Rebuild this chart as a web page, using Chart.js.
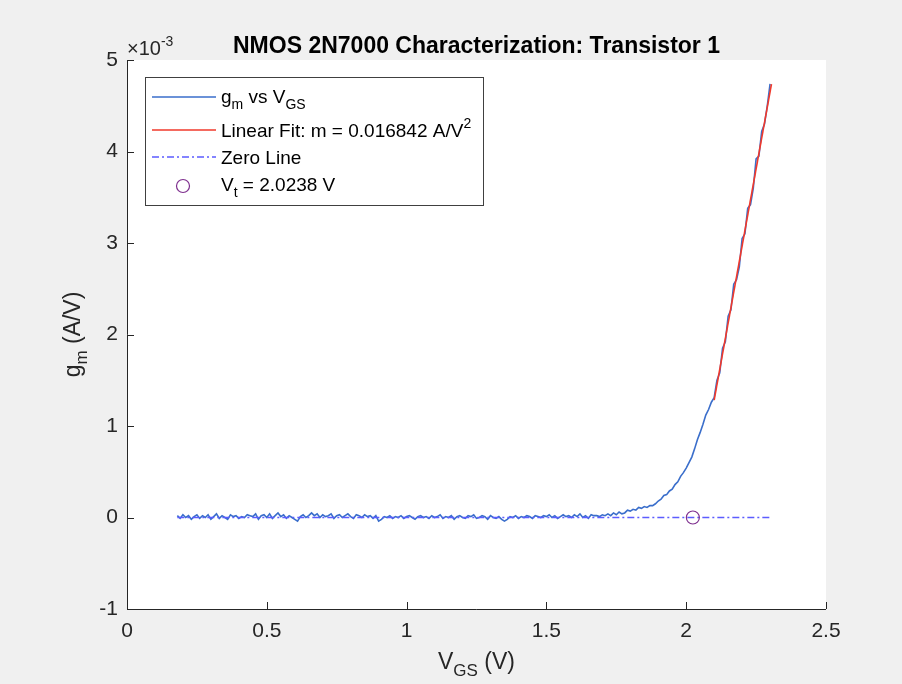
<!DOCTYPE html>
<html>
<head>
<meta charset="utf-8">
<title>NMOS 2N7000 Characterization: Transistor 1</title>
<script src="https://cdn.jsdelivr.net/npm/chart.js@4/dist/chart.umd.min.js"></script>
<style>
  html, body { margin: 0; padding: 0; background: #f0f0f0; }
  canvas { display: block; }
</style>
</head>
<body>
<canvas id="gmChart" width="902" height="684"></canvas>
<script>
// Gate-source voltage sweep (V)
const vgs = [
  0.18,0.19,0.20,0.21,0.22,0.23,0.24,0.25,0.26,0.27,
  0.28,0.29,0.30,0.31,0.32,0.33,0.34,0.35,0.36,0.37,
  0.38,0.39,0.40,0.41,0.42,0.43,0.44,0.45,0.46,0.47,
  0.48,0.49,0.50,0.51,0.52,0.53,0.54,0.55,0.56,0.57,
  0.58,0.59,0.60,0.61,0.62,0.63,0.64,0.65,0.66,0.67,
  0.68,0.69,0.70,0.71,0.72,0.73,0.74,0.75,0.76,0.77,
  0.78,0.79,0.80,0.81,0.82,0.83,0.84,0.85,0.86,0.87,
  0.88,0.89,0.90,0.91,0.92,0.93,0.94,0.95,0.96,0.97,
  0.98,0.99,1.00,1.01,1.02,1.03,1.04,1.05,1.06,1.07,
  1.08,1.09,1.10,1.11,1.12,1.13,1.14,1.15,1.16,1.17,
  1.18,1.19,1.20,1.21,1.22,1.23,1.24,1.25,1.26,1.27,
  1.28,1.29,1.30,1.31,1.32,1.33,1.34,1.35,1.36,1.37,
  1.38,1.39,1.40,1.41,1.42,1.43,1.44,1.45,1.46,1.47,
  1.48,1.49,1.50,1.51,1.52,1.53,1.54,1.55,1.56,1.57,
  1.58,1.59,1.60,1.61,1.62,1.63,1.64,1.65,1.66,1.67,
  1.68,1.69,1.70,1.71,1.72,1.73,1.74,1.75,1.76,1.77,
  1.78,1.79,1.80,1.81,1.82,1.83,1.84,1.85,1.86,1.87,
  1.88,1.89,1.90,1.91,1.92,1.93,1.94,1.95,1.96,1.97,
  1.98,1.99,2.00,2.01,2.02,2.03,2.04,2.05,2.06,2.07,
  2.08,2.09,2.10,2.11,2.12,2.13,2.14,2.15,2.16,2.17,
  2.18,2.19,2.20,2.21,2.22,2.23,2.24,2.25,2.26,2.27,
  2.28,2.29,2.30
];

// Measured transconductance, in units of 1e-3 A/V
const gmMilli = [
  0.02,-0.01,0.03,0.00,0.02,-0.02,0.01,0.03,-0.01,0.02,
  0.00,0.03,-0.02,0.01,0.04,-0.01,0.02,0.00,-0.02,0.03,
  0.01,0.02,-0.01,0.01,0.00,0.03,0.02,0.01,0.04,-0.02,
  0.02,0.03,0.00,0.04,-0.01,0.02,0.05,0.01,0.03,-0.01,
  0.02,0.00,-0.02,-0.04,0.01,0.03,0.00,0.02,0.05,0.02,
  0.04,0.00,0.03,0.01,0.02,0.04,-0.01,0.02,0.03,0.00,
  0.02,0.04,0.01,-0.01,0.03,0.02,0.00,0.03,0.01,0.02,
  -0.01,0.02,-0.04,-0.02,0.01,0.00,0.02,-0.01,0.01,0.00,
  0.02,-0.01,0.01,0.02,0.00,-0.02,0.01,0.02,0.00,0.01,
  -0.01,0.02,0.00,0.01,0.03,-0.01,0.01,0.00,0.02,-0.02,
  0.01,0.02,0.00,-0.01,0.02,0.01,0.03,-0.01,0.00,0.02,
  0.01,-0.02,0.02,0.00,-0.01,0.01,-0.02,-0.04,-0.02,0.01,
  0.00,0.02,-0.01,0.01,0.00,0.02,0.01,-0.01,0.02,0.01,
  0.00,0.02,0.01,0.03,0.00,0.02,-0.01,0.01,0.03,0.01,
  0.02,0.00,0.03,0.01,0.04,0.00,0.02,-0.01,0.03,0.02,
  0.02,0.01,0.03,0.02,0.04,0.02,0.05,0.03,0.06,0.04,
  0.05,0.08,0.07,0.09,0.08,0.11,0.10,0.12,0.11,0.13,
  0.13,0.15,0.18,0.20,0.24,0.25,0.29,0.31,0.36,0.39,
  0.45,0.49,0.54,0.60,0.66,0.75,0.85,0.93,1.02,1.12,
  1.18,1.26,1.31,1.50,1.58,1.85,1.92,2.20,2.27,2.55,
  2.60,2.74,3.05,3.10,3.38,3.42,3.60,3.92,3.95,4.22,
  4.30,4.50,4.74
];

// Fit results shown in the legend
const fitSlope = 0.016842;       // A/V^2
const thresholdV = 2.0238;       // V (x-intercept of the fit)
const fitRange = [2.10, 2.305];  // V span of the fitted segment
const zeroRange = [0.18, 2.30];  // V span of the zero reference

// Axis ticks
const xTicks = [0, 0.5, 1, 1.5, 2, 2.5];
const yTicks = [-1, 0, 1, 2, 3, 4, 5];
const yScale = 1e-3;

const FONT = "'Liberation Sans', Arial, Helvetica, sans-serif";
const C_BLUE = '#3a6ecb';
const C_RED = '#f0392b';
const C_ZERO = '#5c5cff';
const C_VT = '#7e2f8e';
const C_AXIS = '#262626';

const gmPoints = vgs.map((v, i) => ({ x: v, y: gmMilli[i] }));
const fitPoints = fitRange.map(v => ({ x: v, y: fitSlope * (v - thresholdV) / yScale }));
const zeroPoints = zeroRange.map(v => ({ x: v, y: 0 }));
const vtPoints = [{ x: thresholdV, y: 0 }];

// Draws a run of text pieces, some as subscripts or superscripts
function drawRich(ctx, parts, x, y, size, align, color) {
  const small = Math.round(size * 0.72);
  let total = 0;
  parts.forEach(p => {
    ctx.font = (p.bold ? 'bold ' : '') + (p.sub || p.sup ? small : size) + 'px ' + FONT;
    p.w = ctx.measureText(p.t).width;
    total += p.w;
  });
  let cx = align === 'center' ? x - total / 2 : (align === 'right' ? x - total : x);
  ctx.fillStyle = color;
  ctx.textAlign = 'left';
  ctx.textBaseline = 'alphabetic';
  parts.forEach(p => {
    ctx.font = (p.bold ? 'bold ' : '') + (p.sub || p.sup ? small : size) + 'px ' + FONT;
    const dy = p.sub ? size * 0.32 : (p.sup ? -size * 0.45 : 0);
    ctx.fillText(p.t, cx, y + dy);
    cx += p.w;
  });
}

function legendLine(ctx, color, width, dash, x0, x1, y) {
  ctx.save();
  ctx.strokeStyle = color;
  ctx.lineWidth = width;
  ctx.setLineDash(dash);
  ctx.beginPath();
  ctx.moveTo(x0, y);
  ctx.lineTo(x1, y);
  ctx.stroke();
  ctx.restore();
}

const decorPlugin = {
  id: 'decor',
  beforeDraw(chart) {
    const { ctx, chartArea: a } = chart;
    ctx.save();
    ctx.fillStyle = '#f0f0f0';
    ctx.fillRect(0, 0, chart.width, chart.height);
    ctx.fillStyle = '#ffffff';
    ctx.fillRect(a.left, a.top, a.right - a.left, a.bottom - a.top);
    ctx.restore();
  },
  afterDraw(chart) {
    const { ctx, chartArea: a, scales } = chart;
    ctx.save();

    // Axis lines with inward ticks
    ctx.strokeStyle = C_AXIS;
    ctx.lineWidth = 1;
    ctx.beginPath();
    ctx.moveTo(a.left + 0.5, a.top);
    ctx.lineTo(a.left + 0.5, a.bottom + 0.5);
    ctx.lineTo(a.right, a.bottom + 0.5);
    const tl = 7;
    xTicks.forEach(t => {
      const px = Math.round(scales.x.getPixelForValue(t)) + 0.5;
      ctx.moveTo(px, a.bottom);
      ctx.lineTo(px, a.bottom - tl);
    });
    yTicks.forEach(t => {
      const py = Math.round(scales.y.getPixelForValue(t)) + 0.5;
      ctx.moveTo(a.left, py);
      ctx.lineTo(a.left + tl, py);
    });
    ctx.stroke();

    // Title
    drawRich(ctx, [{ t: 'NMOS 2N7000 Characterization: Transistor 1', bold: true }],
      (a.left + a.right) / 2, 53, 23, 'center', '#000000');

    // Exponent for the y axis
    drawRich(ctx, [{ t: '\u00d710' }, { t: '-3', sup: true }], a.left, 55, 20, 'left', '#262626');

    // Axis titles
    drawRich(ctx, [{ t: 'V' }, { t: 'GS', sub: true }, { t: ' (V)' }],
      (a.left + a.right) / 2, 669, 23, 'center', '#262626');
    ctx.save();
    ctx.translate(80, (a.top + a.bottom) / 2);
    ctx.rotate(-Math.PI / 2);
    drawRich(ctx, [{ t: 'g' }, { t: 'm', sub: true }, { t: ' (A/V)' }], 0, 0, 23, 'center', '#262626');
    ctx.restore();

    // Legend
    const lx = 145.5, ly = 77.5, lw = 338, lh = 128;
    ctx.fillStyle = '#ffffff';
    ctx.fillRect(lx, ly, lw, lh);
    ctx.strokeStyle = '#404040';
    ctx.lineWidth = 1;
    ctx.setLineDash([]);
    ctx.strokeRect(lx, ly, lw, lh);

    const sx0 = 152, sx1 = 216, tx = 221, fs = 19;
    legendLine(ctx, C_BLUE, 1.5, [], sx0, sx1, 97);
    drawRich(ctx, [{ t: 'g' }, { t: 'm', sub: true }, { t: ' vs V' }, { t: 'GS', sub: true }], tx, 103, fs, 'left', '#000');

    legendLine(ctx, C_RED, 1.5, [], sx0, sx1, 130);
    drawRich(ctx, [{ t: 'Linear Fit: m = ' + fitSlope.toFixed(6) + ' A/V' }, { t: '2', sup: true }], tx, 137, fs, 'left', '#000');

    legendLine(ctx, C_ZERO, 1.3, [7, 3, 2, 3], sx0, sx1, 157);
    drawRich(ctx, [{ t: 'Zero Line' }], tx, 164, fs, 'left', '#000');

    ctx.strokeStyle = C_VT; ctx.lineWidth = 1.2;
    ctx.beginPath(); ctx.arc(183, 186, 6.5, 0, Math.PI * 2); ctx.stroke();
    drawRich(ctx, [{ t: 'V' }, { t: 't', sub: true }, { t: ' = ' + thresholdV.toFixed(4) + ' V' }], tx, 191, fs, 'left', '#000');

    ctx.restore();
  }
};

new Chart(document.getElementById('gmChart'), {
  type: 'scatter',
  data: {
    datasets: [
      { label: 'gm vs VGS', data: gmPoints, showLine: true, borderColor: C_BLUE, borderWidth: 1.6,
        pointRadius: 0, tension: 0, order: 4 },
      { label: 'Linear Fit', data: fitPoints, showLine: true, borderColor: C_RED, borderWidth: 1.6,
        pointRadius: 0, order: 3 },
      { label: 'Zero Line', data: zeroPoints, showLine: true, borderColor: C_ZERO, borderWidth: 1.3,
        borderDash: [7, 3, 2, 3], pointRadius: 0, order: 2 },
      { label: 'Vt', data: vtPoints, showLine: false, borderColor: C_VT, backgroundColor: 'rgba(0,0,0,0)',
        borderWidth: 1.2, pointRadius: 6.5, pointStyle: 'circle', order: 1 }
    ]
  },
  options: {
    responsive: false,
    animation: false,
    events: [],
    layout: { padding: { top: 60, right: 76, left: 0, bottom: 0 } },
    plugins: { legend: { display: false }, title: { display: false }, tooltip: { enabled: false } },
    scales: {
      x: {
        type: 'linear', min: 0, max: 2.5,
        afterFit(s) { s.height = 75; },
        afterBuildTicks(s) { s.ticks = xTicks.map(v => ({ value: v })); },
        grid: { display: false, drawTicks: false },
        border: { display: false },
        ticks: { padding: 10, color: '#262626', font: { family: FONT, size: 21 }, maxRotation: 0,
                 callback: v => String(v) }
      },
      y: {
        type: 'linear', min: -1, max: 5,
        afterFit(s) { s.width = 127; },
        afterBuildTicks(s) { s.ticks = yTicks.map(v => ({ value: v })); },
        grid: { display: false, drawTicks: false },
        border: { display: false },
        ticks: { padding: 9, color: '#262626', font: { family: FONT, size: 21 },
                 callback: v => String(v) }
      }
    }
  },
  plugins: [decorPlugin]
});
</script>
</body>
</html>
